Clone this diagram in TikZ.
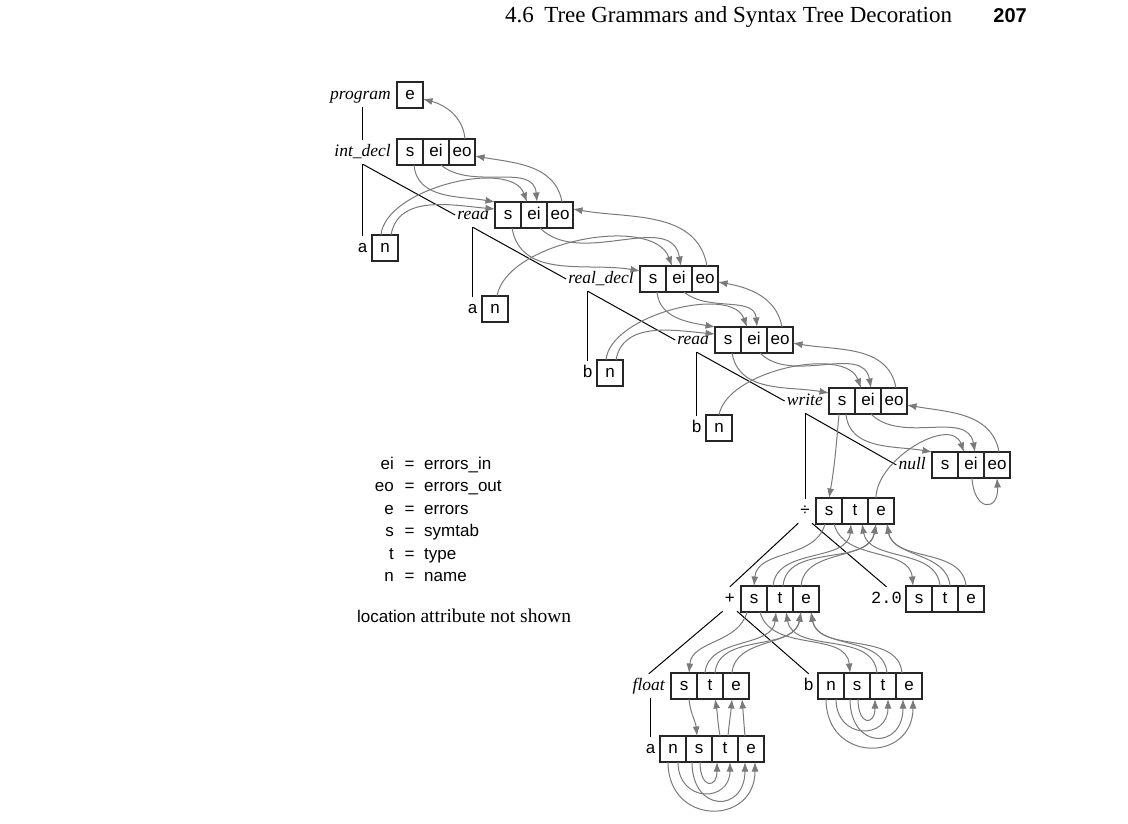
\documentclass[tikz,border=0pt]{standalone}
\usepackage{fontspec}
\setmainfont{Liberation Serif}
\setsansfont{Liberation Sans}
\setmonofont{Liberation Mono}
\usetikzlibrary{arrows.meta,positioning}

\begin{document}
\begin{tikzpicture}[
  x=1pt, y=-1pt,
  attrcell/.style={draw=black!85, line width=1.1pt, minimum width=26pt,
              minimum height=26pt, inner sep=0pt, outer sep=0pt,
              font=\sffamily\fontsize{17}{20}\selectfont,
              text height=12pt, text depth=3pt},
  sym/.style={inner sep=2pt, font=\itshape\fontsize{17.5}{20}\selectfont,
              text height=14pt, text depth=6pt},
  leaf/.style={inner sep=2pt, font=\ttfamily\fontsize{17}{20}\selectfont,
              text height=14pt, text depth=6pt},
  op/.style={inner sep=2pt, font=\sffamily\fontsize{17}{20}\selectfont,
              text height=14pt, text depth=6pt},
  branch/.style={draw=black, line width=1pt},
  attr/.style={draw=black!52, line width=1pt,
              -{Latex[length=9.5pt,width=7pt]}},
  legend/.style={font=\sffamily\fontsize{17}{20}\selectfont, inner sep=0pt}
]
\useasboundingbox (0,0) rectangle (1128,823);

%% ---- running head ---------------------------------------------------
\node[anchor=base west, inner sep=0pt, font=\fontsize{23}{24}\selectfont]
     (head) at (505,22) {4.6\hspace{0.45em}Tree Grammars and Syntax Tree Decoration};
\node[anchor=base east, inner sep=0pt,
      font=\sffamily\bfseries\fontsize{20}{24}\selectfont]
     (pageno) at (1027,22) {207};

%% ---- statement chain ------------------------------------------------
% program
\node[attrcell] (prog-e) at (410,95) {e};
\node[sym, left=4pt of prog-e] (prog) {program};

% int_decl
\node[attrcell] (idecl-s) at (410,152) {s};
\node[attrcell, right=0pt of idecl-s] (idecl-ei) {ei};
\node[attrcell, right=0pt of idecl-ei] (idecl-eo) {eo};
\node[sym, left=4pt of idecl-s] (idecl) {int\_decl};
\node[attrcell] (na1-n) at (385,248) {n};
\node[leaf, left=2pt of na1-n] (na1) {a};

% read a
\node[attrcell] (rda-s) at (508,215) {s};
\node[attrcell, right=0pt of rda-s] (rda-ei) {ei};
\node[attrcell, right=0pt of rda-ei] (rda-eo) {eo};
\node[sym, left=4pt of rda-s] (rda) {read};
\node[attrcell] (na2-n) at (495,309) {n};
\node[leaf, left=2pt of na2-n] (na2) {a};

% real_decl
\node[attrcell] (rdecl-s) at (653,279) {s};
\node[attrcell, right=0pt of rdecl-s] (rdecl-ei) {ei};
\node[attrcell, right=0pt of rdecl-ei] (rdecl-eo) {eo};
\node[sym, left=4pt of rdecl-s] (rdecl) {real\_decl};
\node[attrcell] (nb1-n) at (610,373) {n};
\node[leaf, left=2pt of nb1-n] (nb1) {b};

% read b
\node[attrcell] (rdb-s) at (728,340) {s};
\node[attrcell, right=0pt of rdb-s] (rdb-ei) {ei};
\node[attrcell, right=0pt of rdb-ei] (rdb-eo) {eo};
\node[sym, left=4pt of rdb-s] (rdb) {read};
\node[attrcell] (nb2-n) at (719,428) {n};
\node[leaf, left=2pt of nb2-n] (nb2) {b};

% write
\node[attrcell] (wr-s) at (842,401) {s};
\node[attrcell, right=0pt of wr-s] (wr-ei) {ei};
\node[attrcell, right=0pt of wr-ei] (wr-eo) {eo};
\node[sym, left=4pt of wr-s] (wr) {write};

% null
\node[attrcell] (nul-s) at (945,465) {s};
\node[attrcell, right=0pt of nul-s] (nul-ei) {ei};
\node[attrcell, right=0pt of nul-ei] (nul-eo) {eo};
\node[sym, left=4pt of nul-s] (nul) {null};

%% ---- expression -----------------------------------------------------
\node[attrcell] (div-s) at (829,511) {s};
\node[attrcell, right=0pt of div-s] (div-t) {t};
\node[attrcell, right=0pt of div-t] (div-e) {e};
\node[op, left=4pt of div-s] (div) {÷};

\node[attrcell] (plus-s) at (754,599) {s};
\node[attrcell, right=0pt of plus-s] (plus-t) {t};
\node[attrcell, right=0pt of plus-t] (plus-e) {e};
\node[op, left=4pt of plus-s] (plus) {+};

\node[attrcell] (two-s) at (919,599) {s};
\node[attrcell, right=0pt of two-s] (two-t) {t};
\node[attrcell, right=0pt of two-t] (two-e) {e};
\node[leaf, left=2pt of two-s] (two) {2.0};

\node[attrcell] (flt-s) at (684,686) {s};
\node[attrcell, right=0pt of flt-s] (flt-t) {t};
\node[attrcell, right=0pt of flt-t] (flt-e) {e};
\node[sym, left=4pt of flt-s] (flt) {float};

\node[attrcell] (idb-n) at (831,686) {n};
\node[attrcell, right=0pt of idb-n] (idb-s) {s};
\node[attrcell, right=0pt of idb-s] (idb-t) {t};
\node[attrcell, right=0pt of idb-t] (idb-e) {e};
\node[leaf, left=2pt of idb-n] (idb) {b};

\node[attrcell] (ida-n) at (673,749) {n};
\node[attrcell, right=0pt of ida-n] (ida-s) {s};
\node[attrcell, right=0pt of ida-s] (ida-t) {t};
\node[attrcell, right=0pt of ida-t] (ida-e) {e};
\node[leaf, left=2pt of ida-n] (ida) {a};

%% ---- tree edges -----------------------------------------------------
\coordinate (idecl-br) at (na1.north |- idecl.south);
\coordinate (rda-br)   at (na2.north |- rda.south);
\coordinate (rdecl-br) at (nb1.north |- rdecl.south);
\coordinate (rdb-br)   at (nb2.north |- rdb.south);
\coordinate (wr-br)    at (div.north |- wr.south);
\coordinate (flt-br)   at (ida.north |- flt.south);

\draw[branch] (prog.south -| idecl-br) -- (idecl.north -| idecl-br);
\draw[branch] (idecl-br) -- (na1.north);
\draw[branch] (idecl-br) -- (rda.west);
\draw[branch] (rda-br) -- (na2.north);
\draw[branch] (rda-br) -- (rdecl.west);
\draw[branch] (rdecl-br) -- (nb1.north);
\draw[branch] (rdecl-br) -- (rdb.west);
\draw[branch] (rdb-br) -- (nb2.north);
\draw[branch] (rdb-br) -- (wr.west);
\draw[branch] (wr-br) -- (div.north);
\draw[branch] (wr-br) -- (nul.west);
\draw[branch] (div.south west) -- (plus.north);
\draw[branch] (div.south east) -- (two.north);
\draw[branch] (plus.south west) -- (flt.north);
\draw[branch] (plus.south east) -- (idb.north);
\draw[branch] (flt-br) -- (ida.north);

%% ---- errors_out flows back up ---------------------------------------
\draw[attr] ([xshift=3pt]idecl-eo.north) to[out=95,in=-15] ([yshift=-4pt]prog-e.east);
\draw[attr] ([xshift=2pt]rda-eo.north) to[out=100,in=-10] ([yshift=-4pt]idecl-eo.east);
\draw[attr] ([xshift=2pt]rdecl-eo.north) to[out=100,in=-10] ([yshift=6pt]rda-eo.east);
\draw[attr] ([xshift=2pt]rdb-eo.north) to[out=100,in=-10] ([yshift=-3pt]rdecl-eo.east);
\draw[attr] ([xshift=2pt]wr-eo.north) to[out=100,in=-10] ([yshift=-3pt]rdb-eo.east);
\draw[attr] ([xshift=2pt]nul-eo.north) to[out=100,in=-10] ([yshift=-4pt]wr-eo.east);

%% ---- symtab / errors_in flow down the chain -------------------------
% int_decl -> read a
\draw[attr] ([xshift=4pt]idecl-s.south) to[out=-85,in=170] (rda-s.north west);
\draw[attr] ([xshift=5pt]idecl-ei.south) to[out=-40,in=95] ([xshift=3pt]rda-ei.north);
\draw[attr] ([xshift=6pt]na1-n.north) to[out=80,in=175] ([yshift=6pt]rda-s.west);
\draw[attr] ([xshift=-4pt]na1-n.north) to[out=85,in=110,looseness=0.8] ([xshift=-7pt]rda-ei.north);
% read a -> real_decl
\draw[attr] ([xshift=4pt]rda-s.south) to[out=-80,in=170] ([yshift=8pt]rdecl-s.west);
\draw[attr] ([xshift=6pt]rda-ei.south) to[out=-45,in=100] ([xshift=2pt]rdecl-ei.north);
\draw[attr] ([xshift=2pt]na2-n.north) to[out=80,in=110,looseness=0.8] ([xshift=-7pt]rdecl-ei.north);
% real_decl -> read b
\draw[attr] ([xshift=4pt]rdecl-s.south) to[out=-85,in=170] (rdb-s.north west);
\draw[attr] ([xshift=5pt]rdecl-ei.south) to[out=-40,in=95] ([xshift=3pt]rdb-ei.north);
\draw[attr] ([xshift=6pt]nb1-n.north) to[out=80,in=175] ([yshift=6pt]rdb-s.west);
\draw[attr] ([xshift=-4pt]nb1-n.north) to[out=85,in=110,looseness=0.8] ([xshift=-7pt]rdb-ei.north);
% read b -> write
\draw[attr] ([xshift=4pt]rdb-s.south) to[out=-80,in=170] ([yshift=8pt]wr-s.west);
\draw[attr] ([xshift=6pt]rdb-ei.south) to[out=-45,in=100] ([xshift=3pt]wr-ei.north);
\draw[attr] (nb2-n.north) to[out=80,in=110,looseness=0.8] ([xshift=-7pt]wr-ei.north);
% write -> null
\draw[attr] ([xshift=4pt]wr-s.south) to[out=-85,in=170] (nul-s.north west);
\draw[attr] ([xshift=3pt]wr-ei.south) to[out=-45,in=100] ([xshift=4pt]nul-ei.north);
\draw[attr] ([xshift=-5pt]div-e.north) to[out=90,in=110] ([xshift=-7pt]nul-ei.north);
\draw[attr] ([xshift=1pt]nul-ei.south) .. controls +(2,34) and +(2,34) .. (nul-eo.south);
\draw[attr] ([xshift=-3pt]wr-s.south) to[out=-95,in=80] (div-s.north);

%% ---- expression attributes ------------------------------------------
% divide
\draw[attr] ([xshift=-4pt]div-s.south) to[out=-105,in=85] (plus-s.north);
\draw[attr] ([xshift=5pt]div-s.south) to[out=-75,in=95] ([xshift=-6pt]two-s.north);
\draw[attr] ([xshift=-7pt]plus-t.north) to[out=85,in=-95] ([xshift=-4pt]div-t.south);
\draw[attr] ([xshift=3pt]plus-t.north) to[out=85,in=-100] ([xshift=-5pt]div-e.south);
\draw[attr] ([xshift=-5pt]plus-e.north) to[out=85,in=-100] ([xshift=-5pt]div-e.south);
\draw[attr] ([xshift=-5pt]two-t.north) to[out=95,in=-80] ([xshift=7pt]div-t.south);
\draw[attr] ([xshift=5pt]two-t.north) to[out=95,in=-80] ([xshift=6pt]div-e.south);
\draw[attr] ([xshift=-5pt]two-e.north) to[out=95,in=-80] ([xshift=6pt]div-e.south);
% plus
\draw[attr] ([xshift=-7pt]plus-s.south) to[out=-105,in=85] ([xshift=5pt]flt-s.north);
\draw[attr] ([xshift=6pt]plus-s.south) to[out=-75,in=95] ([xshift=-7pt]idb-s.north);
\draw[attr] ([xshift=-5pt]flt-t.north) to[out=85,in=-95] ([xshift=-4pt]plus-t.south);
\draw[attr] ([xshift=5pt]flt-t.north) to[out=85,in=-100] ([xshift=-5pt]plus-e.south);
\draw[attr] ([xshift=-4pt]flt-e.north) to[out=85,in=-100] ([xshift=-5pt]plus-e.south);
\draw[attr] ([xshift=-6pt]idb-t.north) to[out=95,in=-80] ([xshift=6pt]plus-t.south);
\draw[attr] ([xshift=4pt]idb-t.north) to[out=95,in=-80] ([xshift=5pt]plus-e.south);
\draw[attr] ([xshift=-7pt]idb-e.north) to[out=95,in=-80] ([xshift=5pt]plus-e.south);
% float
\draw[attr] ([xshift=5pt]flt-s.south) to[out=-85,in=95] ([xshift=-2pt]ida-s.north);
\draw[attr] ([xshift=-5pt]ida-t.north) to[out=100,in=-80] ([xshift=5pt]flt-t.south);
\draw[attr] ([xshift=3pt]ida-t.north) to[out=85,in=-95] ([xshift=-4pt]flt-e.south);
\draw[attr] ([xshift=-6pt]ida-e.north) to[out=95,in=-85] ([xshift=6pt]flt-e.south);
% leaf a
\draw[attr] ([xshift=1pt]ida-s.south) .. controls +(0,27) and +(0,27) .. ([xshift=-8pt]ida-t.south);
\draw[attr] ([xshift=5pt]ida-n.south) .. controls +(0,41) and +(0,41) .. ([xshift=5pt]ida-t.south);
\draw[attr] ([xshift=-7pt]ida-s.south) .. controls +(0,51) and +(0,51) .. ([xshift=-6pt]ida-e.south);
\draw[attr] ([xshift=-5pt]ida-n.south) .. controls +(0,64) and +(0,64) .. ([xshift=4pt]ida-e.south);
% leaf b
\draw[attr] ([xshift=1pt]idb-s.south) .. controls +(0,27) and +(0,27) .. ([xshift=-8pt]idb-t.south);
\draw[attr] ([xshift=5pt]idb-n.south) .. controls +(0,41) and +(0,41) .. ([xshift=5pt]idb-t.south);
\draw[attr] ([xshift=-7pt]idb-s.south) .. controls +(0,51) and +(0,51) .. ([xshift=-6pt]idb-e.south);
\draw[attr] ([xshift=-5pt]idb-n.south) .. controls +(0,64) and +(0,64) .. ([xshift=4pt]idb-e.south);

%% ---- legend ---------------------------------------------------------
\foreach \k/\v [count=\i from 0] in {ei/errors\_in, eo/errors\_out, e/errors,
                                    s/symtab, t/type, n/name} {
  \node[legend, anchor=base east] (key-\i) at (394,{469+22.5*\i}) {\k};
  \node[legend, anchor=base] (eq-\i) at (409.5,{469+22.5*\i}) {=};
  \node[legend, anchor=base west] (val-\i) at (424,{469+22.5*\i}) {\v};
}
\node[anchor=base west, inner sep=0pt] (note) at (357,622)
     {\sffamily\fontsize{17}{20}\selectfont location
      \rmfamily\fontsize{19.5}{22}\selectfont attribute not shown};

\end{tikzpicture}
\end{document}
